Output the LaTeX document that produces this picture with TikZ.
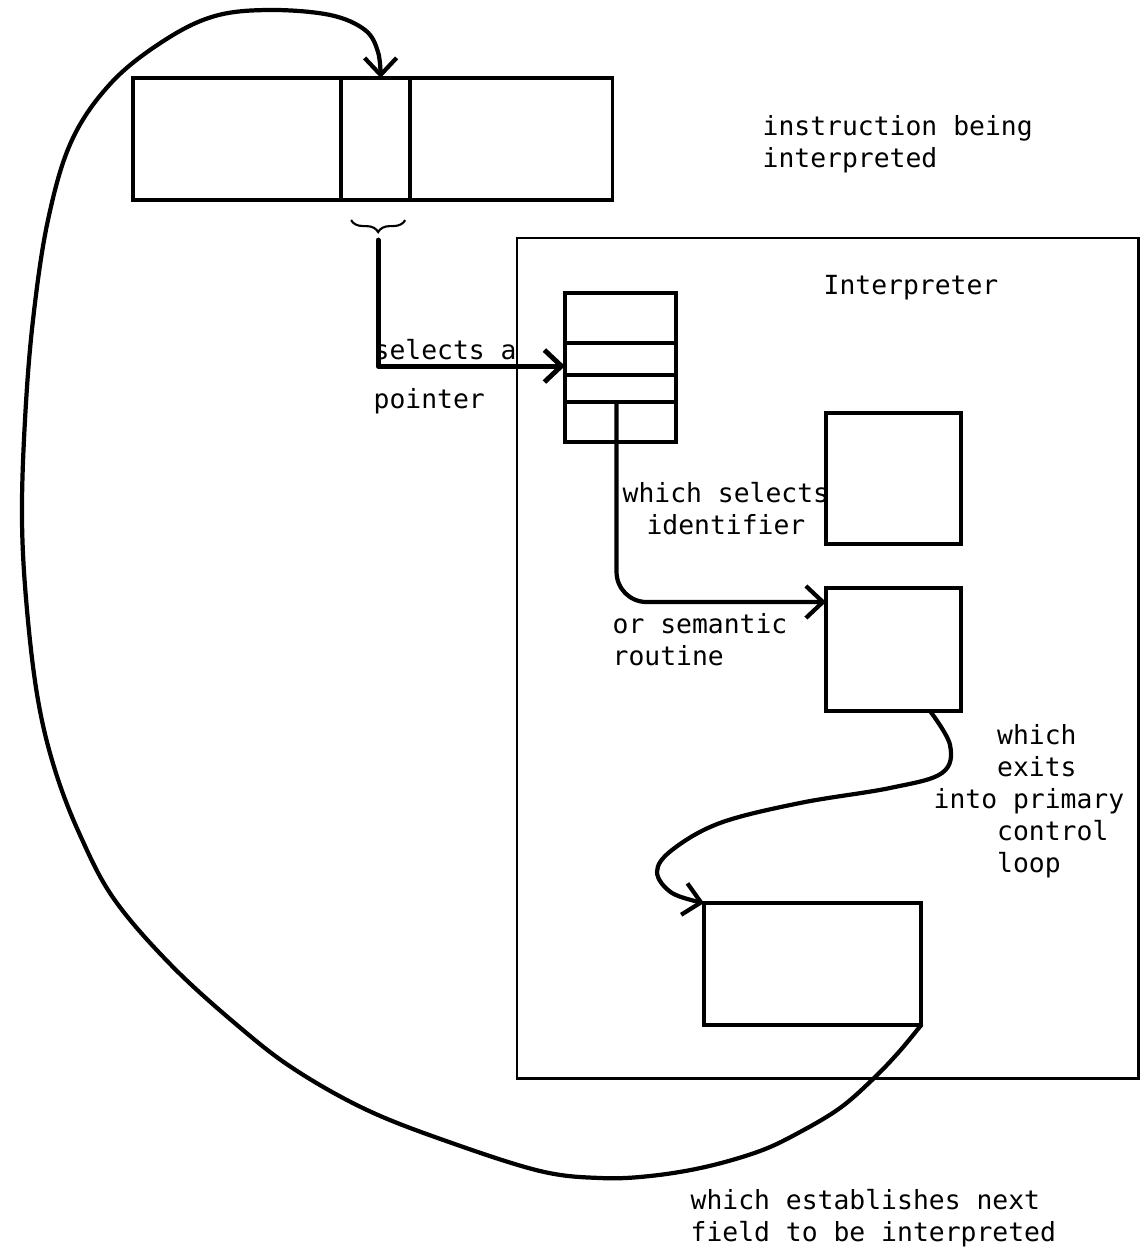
\documentclass[tikz,border=0pt]{standalone}
\usepackage{fontspec}
\usetikzlibrary{arrows.meta,positioning,decorations.pathreplacing}
\newfontfamily\typewriter{DejaVu Sans Mono}
\newcommand{\lblfont}{\typewriter\fontsize{7.5}{9.1}\selectfont}

\begin{document}
\begin{tikzpicture}[x=0.01cm,y=-0.01cm,
    every node/.style={font=\lblfont},
    field/.style={draw,line width=1pt,inner sep=0pt,outer sep=0pt,minimum height=1.22cm},
    cell/.style={draw,line width=1pt,inner sep=0pt,outer sep=0pt,minimum width=1.11cm},
    store/.style={draw,line width=1pt,inner sep=0pt,outer sep=0pt,anchor=north west},
    lbl/.style={inner sep=0pt,anchor=base west,align=left},
    link/.style={line width=1.2pt,line cap=round,line join=round,
                 -{Straight Barb[length=0.17cm,width=0.32cm]}}]
  \useasboundingbox (0,0) rectangle (1140,1252);

  % instruction word
  \node[field,minimum width=2.08cm,anchor=north west] (opfield) at (133,78) {};
  \node[field,minimum width=0.69cm,right=0pt of opfield] (selfield) {};
  \node[field,minimum width=2.02cm,right=0pt of selfield] (restfield) {};
  % (multi-line labels sit on the baseline of their last line)
  \node[lbl] (instr) at (762,168) {instruction being\\interpreted};

  % interpreter
  \node[store,line width=0.7pt,minimum width=6.21cm,minimum height=8.40cm] (interp) at (517,238) {};
  \node[lbl] (interplbl) at (823,295) {Interpreter};

  \node[cell,minimum height=0.50cm,anchor=north west] (slot1) at (565,293) {};
  \node[cell,minimum height=0.32cm,below=0pt of slot1] (slot2) {};
  \node[cell,minimum height=0.27cm,below=0pt of slot2] (slot3) {};
  \node[cell,minimum height=0.40cm,below=0pt of slot3] (slot4) {};

  \node[store,minimum width=1.35cm,minimum height=1.31cm] (ident) at (826,413) {};
  \node[store,minimum width=1.35cm,minimum height=1.23cm] (sem) at (826,588) {};
  \node[store,minimum width=2.17cm,minimum height=1.22cm] (loop) at (704,903) {};

  % brace under the selected field
  \draw[line width=0.6pt,decorate,decoration={brace,mirror,amplitude=0.12cm}]
    ([xshift=0.1cm,yshift=-0.2cm]selfield.south west) -- ([xshift=-0.05cm,yshift=-0.2cm]selfield.south east);
  \coordinate (bracetip) at ([xshift=0.025cm,yshift=-0.4cm]selfield.south);

  \draw[link,line width=1.4pt] (bracetip) |- ([yshift=-0.07cm]slot2.west);
  \node[lbl] (sel) at (373,408) {selects a\\[0.16cm]pointer};

  \draw[link,rounded corners=0.3cm] ([xshift=-0.04cm]slot4.north) |- ([yshift=-0.14cm]sem.north west);
  \node[lbl,align=center] (whichsel) at (622,534) {which selects\\identifier};
  \node[lbl] (orsem) at (612,665) {or semantic\\routine};

  \draw[link] plot[smooth,tension=0.6] coordinates {([xshift=-0.31cm]sem.south east)
    (950,745) (942,773) (890,788) (800,803) (720,823) (672,850) (657,872)
    (672,893) (loop.north west)};
  \node[lbl] (exits) at (933,872)
    {\phantom{into}which\\\phantom{into}exits\\into primary\\\phantom{into}control\\\phantom{into}loop};

  % back to the instruction
  \draw[link] plot[smooth,tension=0.6] coordinates {(loop.south east)
    (898,1053) (872,1080) (840,1108) (800,1132) (760,1151) (705,1167) (650,1176)
    (600,1178) (540,1171) (449,1142) (367,1110) (294,1069) (237,1025) (171,965)
    (114,899) (80,835) (55,770) (38,700) (27,610) (22,520) (25,420) (33,320)
    (48,220) (72,140) (112,82) (165,40) (215,16) (270,10) (330,15) (365,30)
    (378,52) ([xshift=0.05cm]selfield.north)};
  \node[lbl] (nextfield) at (690,1241) {which establishes next\\field to be interpreted};
\end{tikzpicture}
\end{document}
